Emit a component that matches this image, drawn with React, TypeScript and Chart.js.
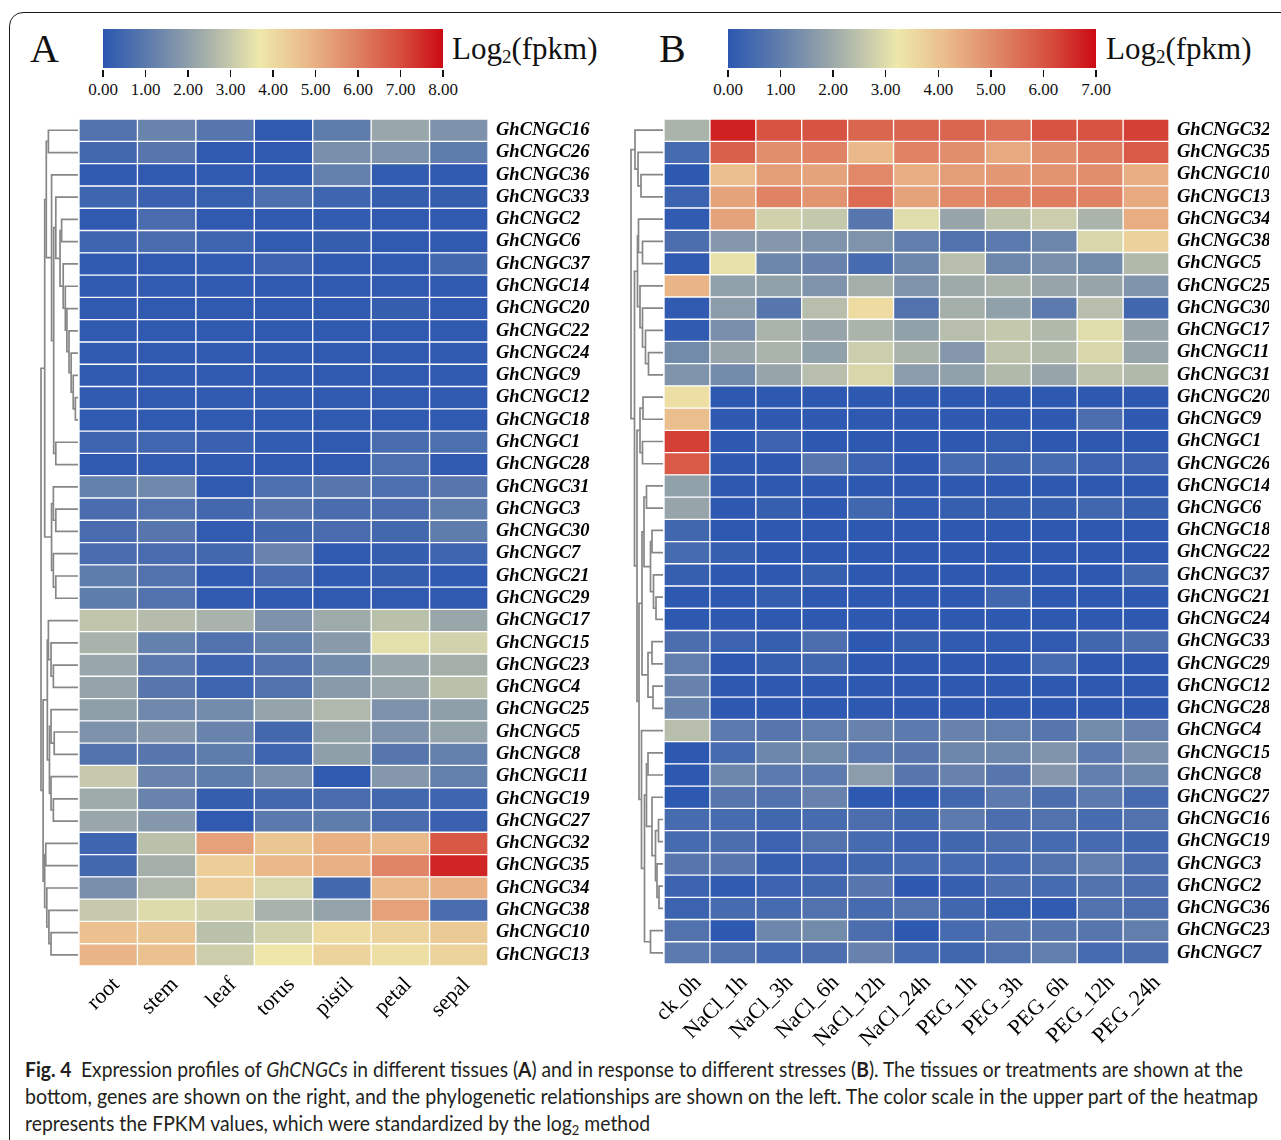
import React, { useEffect, useLayoutEffect, useRef } from 'react';
import { Chart, registerables } from 'chart.js';

Chart.register(...registerables);

// ---------------- DATA ----------------
const tissues = ['root', 'stem', 'leaf', 'torus', 'pistil', 'petal', 'sepal'];

const genesA = [
  'GhCNGC16', 'GhCNGC26', 'GhCNGC36', 'GhCNGC33', 'GhCNGC2', 'GhCNGC6', 'GhCNGC37', 'GhCNGC14',
  'GhCNGC20', 'GhCNGC22', 'GhCNGC24', 'GhCNGC9', 'GhCNGC12', 'GhCNGC18', 'GhCNGC1', 'GhCNGC28',
  'GhCNGC31', 'GhCNGC3', 'GhCNGC30', 'GhCNGC7', 'GhCNGC21', 'GhCNGC29', 'GhCNGC17', 'GhCNGC15',
  'GhCNGC23', 'GhCNGC4', 'GhCNGC25', 'GhCNGC5', 'GhCNGC8', 'GhCNGC11', 'GhCNGC19', 'GhCNGC27',
  'GhCNGC32', 'GhCNGC35', 'GhCNGC34', 'GhCNGC38', 'GhCNGC10', 'GhCNGC13',
];

// log2(fpkm), rows follow genesA, columns follow tissues
const exprA = [
  [0.8, 1.3, 0.9, 0.1, 1.1, 2.2, 1.7],
  [0.5, 0.9, 0.1, 0.1, 1.6, 1.7, 1.1],
  [0.1, 0.1, 0.1, 0.1, 1.2, 0.15, 0.1],
  [0.4, 0.3, 0.25, 0.7, 0.4, 0.2, 0.2],
  [0.1, 0.6, 0.1, 0.1, 0.15, 0.1, 0.1],
  [0.4, 0.6, 0.4, 0.15, 0.2, 0.1, 0.1],
  [0.1, 0.1, 0.15, 0.35, 0.1, 0.1, 0.5],
  [0.1, 0.15, 0.1, 0.1, 0.1, 0.1, 0.1],
  [0.1, 0.1, 0.1, 0.1, 0.1, 0.2, 0.1],
  [0.1, 0.1, 0.1, 0.1, 0.1, 0.1, 0.1],
  [0.1, 0.1, 0.1, 0.1, 0.1, 0.1, 0.1],
  [0.1, 0.1, 0.1, 0.1, 0.1, 0.1, 0.1],
  [0.1, 0.1, 0.1, 0.1, 0.1, 0.1, 0.1],
  [0.1, 0.1, 0.1, 0.1, 0.1, 0.1, 0.1],
  [0.4, 0.45, 0.3, 0.15, 0.1, 0.6, 0.7],
  [0.1, 0.15, 0.1, 0.1, 0.1, 0.7, 0.1],
  [1.2, 1.4, 0.1, 0.7, 0.9, 0.7, 0.9],
  [0.6, 0.8, 0.5, 0.9, 0.6, 0.6, 1.1],
  [0.6, 0.9, 0.15, 0.5, 0.6, 0.5, 1.1],
  [0.6, 0.6, 0.5, 1.3, 0.1, 0.2, 0.4],
  [1.1, 0.8, 0.1, 0.6, 0.1, 0.2, 0.1],
  [1.1, 0.8, 0.1, 0.1, 0.1, 0.1, 0.1],
  [2.9, 2.7, 2.5, 1.7, 2.3, 2.8, 2.2],
  [2.5, 1.2, 0.8, 1.2, 1.9, 3.5, 3.2],
  [2.2, 1.0, 0.4, 0.8, 1.5, 2.2, 2.4],
  [2.1, 0.9, 0.4, 0.8, 1.9, 2.2, 2.8],
  [2.0, 1.4, 1.5, 2.1, 2.6, 1.7, 2.0],
  [1.7, 1.8, 1.3, 0.5, 2.1, 1.7, 2.1],
  [0.8, 0.9, 1.1, 0.4, 2.0, 0.9, 1.2],
  [3.0, 1.3, 1.1, 1.6, 0.1, 1.8, 1.2],
  [2.3, 1.3, 0.2, 0.5, 0.6, 0.5, 0.4],
  [2.2, 1.8, 0.1, 1.0, 1.1, 0.6, 0.3],
  [0.4, 2.8, 5.3, 4.5, 5.0, 4.8, 6.8],
  [0.5, 2.4, 4.3, 4.8, 5.0, 5.9, 7.6],
  [1.6, 2.6, 4.3, 3.3, 0.5, 4.8, 5.0],
  [3.0, 3.4, 3.2, 2.5, 2.1, 5.3, 0.6],
  [4.6, 4.5, 2.8, 3.2, 4.0, 4.2, 4.4],
  [4.9, 4.6, 3.1, 3.7, 4.2, 3.9, 4.2],
];

// dendrogram: node = [left, right, height]; leaves are gene names
const treeA: any = [
  [
    [
      ['GhCNGC16', 'GhCNGC26', 28],
      ['GhCNGC36',
        [
          ['GhCNGC33',
            [
              ['GhCNGC2', 'GhCNGC6', 15.5],
              ['GhCNGC37', ['GhCNGC14', ['GhCNGC20', ['GhCNGC22', ['GhCNGC24', ['GhCNGC9', ['GhCNGC12', 'GhCNGC18', 2.5], 4.5], 6.5], 8.5], 10.5], 12], 14],
              17],
            21],
          ['GhCNGC1', 'GhCNGC28', 21],
          23],
        25],
      30],
    [
      ['GhCNGC31', ['GhCNGC3', 'GhCNGC30', 21], 23.3],
      ['GhCNGC7', ['GhCNGC21', 'GhCNGC29', 21], 23.3],
      25],
    31.5],
  [
    [
      ['GhCNGC17', ['GhCNGC15', ['GhCNGC23', 'GhCNGC4', 23.3], 25.5], 28],
      [
        ['GhCNGC25', ['GhCNGC5', 'GhCNGC8', 22.5], 25.5],
        ['GhCNGC11', ['GhCNGC19', 'GhCNGC27', 23.3], 25.5],
        27],
      29],
    [
      ['GhCNGC32', 'GhCNGC35', 30.5],
      ['GhCNGC34', ['GhCNGC38', ['GhCNGC10', 'GhCNGC13', 25.5], 27.5], 29.5],
      31.5],
    33],
  35];

const scaleTicksA = ['0.00', '1.00', '2.00', '3.00', '4.00', '5.00', '6.00', '7.00', '8.00'];

const treatments = ['ck_0h', 'NaCl_1h', 'NaCl_3h', 'NaCl_6h', 'NaCl_12h', 'NaCl_24h', 'PEG_1h', 'PEG_3h', 'PEG_6h', 'PEG_12h', 'PEG_24h'];

const genesB = [
  'GhCNGC32', 'GhCNGC35', 'GhCNGC10', 'GhCNGC13', 'GhCNGC34', 'GhCNGC38', 'GhCNGC5', 'GhCNGC25',
  'GhCNGC30', 'GhCNGC17', 'GhCNGC11', 'GhCNGC31', 'GhCNGC20', 'GhCNGC9', 'GhCNGC1', 'GhCNGC26',
  'GhCNGC14', 'GhCNGC6', 'GhCNGC18', 'GhCNGC22', 'GhCNGC37', 'GhCNGC21', 'GhCNGC24', 'GhCNGC33',
  'GhCNGC29', 'GhCNGC12', 'GhCNGC28', 'GhCNGC4', 'GhCNGC15', 'GhCNGC8', 'GhCNGC27', 'GhCNGC16',
  'GhCNGC19', 'GhCNGC3', 'GhCNGC2', 'GhCNGC36', 'GhCNGC23', 'GhCNGC7',
];

const exprB = [
  [2.2, 6.7, 6.0, 6.0, 5.7, 5.7, 5.7, 5.5, 6.0, 6.0, 6.3],
  [0.5, 5.8, 5.0, 5.2, 4.2, 5.2, 5.0, 4.5, 5.0, 5.3, 5.9],
  [0.05, 4.1, 4.7, 4.6, 5.1, 4.4, 4.7, 4.8, 4.9, 5.0, 4.4],
  [0.3, 4.6, 5.2, 4.9, 5.6, 4.6, 5.1, 5.2, 5.3, 5.2, 4.5],
  [0.1, 4.6, 2.8, 2.6, 0.8, 3.0, 1.9, 2.5, 2.7, 2.2, 4.4],
  [0.6, 1.6, 1.6, 1.5, 1.5, 1.0, 0.7, 0.9, 1.2, 2.9, 3.7],
  [0.1, 3.1, 1.2, 1.1, 0.5, 1.2, 2.4, 1.2, 1.4, 1.3, 2.3],
  [4.3, 1.8, 1.8, 1.5, 2.1, 1.5, 2.0, 2.2, 1.9, 1.9, 1.5],
  [0.1, 1.7, 0.8, 2.4, 3.5, 0.7, 2.1, 1.8, 0.9, 2.4, 0.4],
  [0.1, 1.4, 2.2, 1.9, 2.2, 1.8, 2.4, 2.6, 2.3, 3.0, 1.9],
  [1.3, 1.9, 2.2, 1.8, 2.7, 2.2, 1.6, 2.5, 2.3, 2.9, 1.9],
  [1.5, 1.3, 1.9, 2.4, 2.9, 1.7, 1.8, 2.3, 1.9, 2.5, 2.3],
  [3.4, 0.05, 0.05, 0.05, 0.05, 0.05, 0.05, 0.05, 0.05, 0.05, 0.05],
  [4.1, 0.05, 0.05, 0.05, 0.05, 0.05, 0.05, 0.05, 0.05, 0.6, 0.05],
  [6.3, 0.05, 0.3, 0.05, 0.05, 0.05, 0.05, 0.15, 0.05, 0.05, 0.05],
  [5.9, 0.05, 0.05, 0.8, 0.3, 0.05, 0.5, 0.4, 0.5, 0.3, 0.3],
  [1.8, 0.05, 0.05, 0.05, 0.05, 0.05, 0.05, 0.05, 0.05, 0.05, 0.05],
  [1.9, 0.05, 0.2, 0.05, 0.4, 0.1, 0.2, 0.2, 0.2, 0.4, 0.2],
  [0.4, 0.05, 0.05, 0.05, 0.05, 0.05, 0.05, 0.05, 0.05, 0.05, 0.05],
  [0.5, 0.2, 0.05, 0.05, 0.05, 0.05, 0.05, 0.05, 0.05, 0.05, 0.05],
  [0.2, 0.05, 0.05, 0.2, 0.05, 0.05, 0.05, 0.05, 0.05, 0.05, 0.4],
  [0.05, 0.05, 0.15, 0.05, 0.05, 0.05, 0.05, 0.4, 0.05, 0.05, 0.05],
  [0.05, 0.05, 0.05, 0.05, 0.05, 0.05, 0.05, 0.05, 0.05, 0.05, 0.05],
  [0.6, 0.3, 0.2, 0.6, 0.05, 0.2, 0.1, 0.1, 0.1, 0.4, 0.6],
  [1.0, 0.05, 0.2, 0.4, 0.05, 0.05, 0.05, 0.05, 0.5, 0.05, 0.05],
  [1.1, 0.05, 0.05, 0.05, 0.05, 0.05, 0.05, 0.05, 0.05, 0.05, 0.05],
  [1.1, 0.05, 0.05, 0.05, 0.05, 0.05, 0.05, 0.05, 0.05, 0.05, 0.05],
  [2.4, 0.9, 0.8, 1.0, 1.1, 0.9, 1.1, 1.0, 0.8, 1.3, 1.1],
  [0.05, 0.5, 1.2, 1.3, 0.9, 0.8, 1.2, 1.2, 1.5, 0.9, 1.4],
  [0.05, 1.2, 0.9, 0.9, 1.7, 0.8, 1.1, 0.8, 1.6, 1.0, 1.2],
  [0.05, 0.8, 0.7, 1.1, 0.05, 0.05, 0.4, 0.9, 0.6, 0.9, 0.5],
  [0.5, 0.5, 0.4, 0.5, 0.6, 0.4, 0.9, 0.6, 0.7, 0.5, 0.7],
  [0.5, 0.6, 0.3, 0.7, 0.5, 0.3, 0.4, 0.6, 0.5, 0.5, 0.4],
  [0.8, 0.8, 0.2, 0.3, 0.4, 0.5, 0.5, 0.5, 0.7, 1.0, 0.6],
  [0.3, 0.1, 0.3, 0.4, 0.8, 0.05, 0.2, 0.6, 0.5, 0.7, 0.6],
  [0.3, 0.5, 0.5, 0.7, 0.5, 0.7, 0.4, 0.15, 0.1, 0.7, 0.6],
  [0.7, 0.05, 1.2, 1.3, 0.6, 0.05, 0.5, 0.8, 0.8, 0.8, 1.0],
  [0.9, 0.7, 0.5, 0.6, 1.1, 0.5, 0.4, 0.7, 1.0, 0.5, 0.6],
];

const treeB: any = [
  ['GhCNGC32', ['GhCNGC35', ['GhCNGC10', 'GhCNGC13', 22], 25], 28],
  [
    [
      ['GhCNGC34', ['GhCNGC38', 'GhCNGC5', 20.5], 24.5],
      ['GhCNGC25', ['GhCNGC30', ['GhCNGC17', ['GhCNGC11', 'GhCNGC31', 14.5], 17.5], 20.5], 23],
      25.5],
    [
      [['GhCNGC20', 'GhCNGC9', 20], ['GhCNGC1', 'GhCNGC26', 20.5], 23],
      [
        [
          [['GhCNGC14', 'GhCNGC6', 16.5], [['GhCNGC18', 'GhCNGC22', 11], ['GhCNGC37', ['GhCNGC21', 'GhCNGC24', 7], 9.5], 12.5], 19],
          [['GhCNGC33', 'GhCNGC29', 11], ['GhCNGC12', 'GhCNGC28', 10], 15],
          21],
        ['GhCNGC4', [[['GhCNGC15', 'GhCNGC8', 15], ['GhCNGC27', [['GhCNGC16', 'GhCNGC19', 4.5], ['GhCNGC3', ['GhCNGC2', 'GhCNGC36', 4], 6], 7.5], 11], 16.5], ['GhCNGC23', 'GhCNGC7', 12.5], 18.5], 21.5],
        24],
      26],
    28.5],
  32];

const scaleTicksB = ['0.00', '1.00', '2.00', '3.00', '4.00', '5.00', '6.00', '7.00'];

// colour ramp (blue -> pale yellow -> red)
const colorStops: [number, number[]][] = [
  [0, [43, 87, 176]],
  [0.15, [100, 128, 172]],
  [0.28, [155, 168, 170]],
  [0.38, [200, 203, 172]],
  [0.46, [238, 232, 170]],
  [0.6, [234, 185, 138]],
  [0.75, [222, 128, 98]],
  [0.88, [214, 75, 60]],
  [1, [204, 10, 20]],
];

function colorFor(v: number, max: number) {
  const t = Math.max(0, Math.min(1, v / max));
  for (let i = 1; i < colorStops.length; i++) {
    const [t1, c1] = colorStops[i];
    const [t0, c0] = colorStops[i - 1];
    if (t <= t1) {
      const f = (t - t0) / (t1 - t0);
      const c = c0.map((a, k) => Math.round(a + (c1[k] - a) * f));
      return `rgb(${c[0]},${c[1]},${c[2]})`;
    }
  }
  const c = colorStops[colorStops.length - 1][1];
  return `rgb(${c[0]},${c[1]},${c[2]})`;
}

const SERIF = "'Liberation Serif', 'Times New Roman', serif";

function dendroPlugin(tree: any, widthPx: number, rootH: number) {
  return {
    id: 'dendro',
    afterDraw(chart: any) {
      const ctx = chart.ctx;
      const ys = chart.scales.y;
      const left = chart.chartArea.left - 1;
      const labels: string[] = chart.data.labels;
      const k = widthPx / rootH;
      ctx.save();
      ctx.strokeStyle = '#878787';
      ctx.lineWidth = 1.7;
      ctx.lineJoin = 'miter';
      const walk = (n: any): { x: number; y: number } => {
        if (typeof n === 'string') return { x: left, y: ys.getPixelForValue(labels.indexOf(n)) };
        const a = walk(n[0]);
        const b = walk(n[1]);
        const x = left - n[2] * k;
        ctx.beginPath();
        ctx.moveTo(a.x, a.y);
        ctx.lineTo(x, a.y);
        ctx.lineTo(x, b.y);
        ctx.lineTo(b.x, b.y);
        ctx.stroke();
        return { x, y: (a.y + b.y) / 2 };
      };
      walk(tree);
      ctx.restore();
    },
  };
}

function Heatmap(props: any) {
  const { genes, cols, expr, max, tree, rootH, dendroW, left, top, width, height, padding, yAxisW, xAxisH, labelOffset } = props;
  const ref = useRef<HTMLCanvasElement>(null);
  useEffect(() => {
    const datasets = cols.map((c: string, j: number) => ({
      label: c,
      data: genes.map(() => 1),
      backgroundColor: expr.map((row: number[]) => colorFor(row[j], max)),
      borderColor: '#ffffff',
      borderWidth: 1,
      borderSkipped: false,
      barPercentage: 1,
      categoryPercentage: 1,
    }));
    const chart = new Chart(ref.current as HTMLCanvasElement, {
      type: 'bar',
      data: { labels: genes, datasets },
      options: {
        indexAxis: 'y',
        animation: false,
        responsive: false,
        events: [],
        layout: { padding },
        plugins: { legend: { display: false }, tooltip: { enabled: false } },
        scales: {
          x: { type: 'linear', stacked: true, min: 0, max: cols.length, display: false },
          y: {
            type: 'category',
            stacked: true,
            position: 'right',
            offset: true,
            grid: { display: false, drawTicks: false },
            border: { display: false },
            ticks: { color: '#000', padding: 8, autoSkip: false, font: { family: SERIF, size: 18.5, style: 'italic', weight: 'bold' } },
            afterFit: (s: any) => { s.width = yAxisW; },
          },
          x2: {
            type: 'category',
            labels: cols,
            position: 'bottom',
            offset: true,
            grid: { display: false, drawTicks: false },
            border: { display: false },
            ticks: { color: '#000', padding: 6, labelOffset, autoSkip: false, minRotation: 45, maxRotation: 45, font: { family: SERIF, size: 22 } },
            afterFit: (s: any) => { s.height = xAxisH; },
          },
        },
      } as any,
      plugins: [dendroPlugin(tree, dendroW, rootH)],
    });
    return () => chart.destroy();
  }, []);
  return (
    <canvas
      ref={ref}
      width={width}
      height={height}
      style={{ position: 'absolute', left, top, width, height }}
    />
  );
}

function ColorBar({ left, top, width, height, ticks, titleLeft }: any) {
  const grad = `linear-gradient(to right, ${colorStops
    .map(([t, c]) => `rgb(${c[0]},${c[1]},${c[2]}) ${t * 100}%`)
    .join(', ')})`;
  const n = ticks.length - 1;
  return (
    <>
      <div style={{ position: 'absolute', left, top, width, height, background: grad }} />
      {ticks.map((t: string, i: number) => {
        const x = left + (i * width) / n;
        return (
          <React.Fragment key={t}>
            <div style={{ position: 'absolute', left: x - 0.75, top: top + height + 2, width: 1.5, height: 7, background: '#111' }} />
            <div style={{ position: 'absolute', left: x - 30, width: 60, top: 81, textAlign: 'center', fontFamily: SERIF, fontSize: 17, lineHeight: '17px', color: '#111' }}>{t}</div>
          </React.Fragment>
        );
      })}
      <div style={{ position: 'absolute', left: titleLeft, top: 33, fontFamily: SERIF, fontSize: 31, lineHeight: '31px', color: '#111', whiteSpace: 'nowrap' }}>
        Log<sub style={{ fontSize: 19, verticalAlign: -4, lineHeight: 0 }}>2</sub>(fpkm)
      </div>
    </>
  );
}

const captionTargets = [1218, 1233, 625];

export default function App() {
  const l1 = useRef<HTMLSpanElement>(null);
  const l2 = useRef<HTMLSpanElement>(null);
  const l3 = useRef<HTMLSpanElement>(null);
  useLayoutEffect(() => {
    const fit = () => {
      [l1, l2, l3].forEach((r, i) => {
        const el = r.current;
        if (!el) return;
        el.style.transform = 'none';
        const w = el.getBoundingClientRect().width;
        if (w > 0) el.style.transform = `scaleX(${captionTargets[i] / w})`;
      });
    };
    fit();
    const f: any = (document as any).fonts;
    if (f && f.ready) f.ready.then(fit);
  }, []);

  const capStyle: React.CSSProperties = {
    position: 'absolute',
    left: 25,
    fontFamily: "Lato, 'Open Sans', sans-serif",
    fontSize: 21,
    lineHeight: '27px',
    color: '#231f20',
    whiteSpace: 'nowrap',
  };
  const spanStyle: React.CSSProperties = { display: 'inline-block', transformOrigin: 'left center', whiteSpace: 'nowrap' };

  return (
    <div style={{ position: 'absolute', left: 0, top: 0, width: 1281, height: 1140, overflow: 'hidden', background: '#fff' }}>
      <div style={{ position: 'absolute', left: 9, top: 12, width: 1320, height: 1220, border: '1.5px solid #1a1a1a', borderRadius: 14 }} />

      <div style={{ position: 'absolute', left: 30, top: 28.5, fontFamily: SERIF, fontSize: 40, lineHeight: '40px', color: '#111' }}>A</div>
      <div style={{ position: 'absolute', left: 659, top: 28.5, fontFamily: SERIF, fontSize: 40, lineHeight: '40px', color: '#111' }}>B</div>

      <ColorBar left={103} top={29} width={340} height={39} ticks={scaleTicksA} titleLeft={452} />
      <ColorBar left={728} top={29} width={368} height={39} ticks={scaleTicksB} titleLeft={1106} />

      <Heatmap
        genes={genesA} cols={tissues} expr={exprA} max={8}
        tree={treeA} rootH={35} dendroW={37}
        left={20} top={100} width={590} height={950}
        padding={{ left: 59, top: 17, right: 12, bottom: 0 }}
        yAxisW={110} xAxisH={84} labelOffset={8}
      />
      <Heatmap
        genes={genesB} cols={treatments} expr={exprB} max={7}
        tree={treeB} rootH={32} dendroW={32}
        left={615} top={100} width={666} height={950}
        padding={{ left: 49, top: 16, right: 12, bottom: 0 }}
        yAxisW={100} xAxisH={86} labelOffset={11}
      />

      <div style={{ ...capStyle, top: 1054.5 }}>
        <span ref={l1} style={spanStyle}>
          <b>Fig. 4</b>{'\u2002'}Expression profiles of <i>GhCNGCs</i> in different tissues (<b>A</b>) and in response to different stresses (<b>B</b>). The tissues or treatments are shown at the
        </span>
      </div>
      <div style={{ ...capStyle, top: 1081.5 }}>
        <span ref={l2} style={spanStyle}>
          bottom, genes are shown on the right, and the phylogenetic relationships are shown on the left. The color scale in the upper part of the heatmap
        </span>
      </div>
      <div style={{ ...capStyle, top: 1108.5 }}>
        <span ref={l3} style={spanStyle}>
          represents the FPKM values, which were standardized by the log<sub style={{ fontSize: 14, verticalAlign: -4, lineHeight: 0 }}>2</sub> method
        </span>
      </div>
    </div>
  );
}
